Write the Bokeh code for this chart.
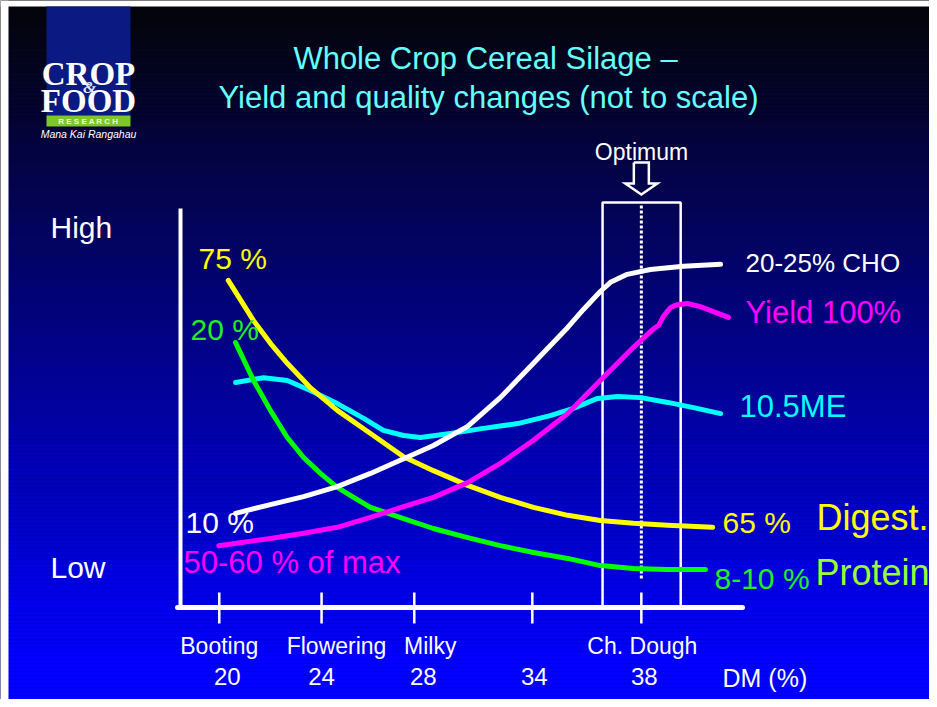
import numpy as np
from bokeh.plotting import figure
from bokeh.models import Range1d, Label, BoxAnnotation
from bokeh.embed import file_html
from bokeh.resources import INLINE
from bokeh.core.properties import value

# ---------------- data (x = position along the not-to-scale growth axis, 0-100;
#                         y = relative level, 0 = Low ... 100 = High) -------------
stage_names = ["Booting", "Flowering", "Milky", "", "Ch. Dough"]
dm_labels = ["20", "24", "28", "34", "38"]
tick_pos = [6.9, 25.1, 41.6, 62.6, 82.0]

level_labels = ["High", "Low"]

opt_left, opt_centre, opt_right, opt_top = 75.1, 82.0, 89.0, 101.5

cho_x = [9.8, 16.0, 21.9, 27.9, 33.8, 39.7, 45.0, 51.1, 56.9, 62.8, 68.9, 71.7,
         74.7, 76.5, 79.5, 83.6, 89.5, 96.1]
cho_y = [23.6, 25.8, 27.8, 30.3, 33.6, 37.3, 40.6, 45.4, 52.6, 61.2, 70.2, 74.7,
         79.2, 81.5, 83.5, 84.7, 85.5, 86.0]

digest_x = [8.5, 13.0, 16.0, 19.0, 23.1, 27.9, 33.8, 39.7, 45.0, 51.1, 56.9,
            62.8, 68.9, 74.7, 80.6, 86.7, 94.7]
digest_y = [82.0, 71.9, 66.2, 61.2, 55.1, 49.4, 43.6, 37.8, 34.3, 30.6, 27.6,
            25.1, 23.1, 21.8, 21.1, 20.6, 20.1]

protein_x = [9.8, 13.0, 16.0, 19.0, 21.9, 24.9, 27.9, 30.8, 33.8, 39.7, 45.0,
             51.1, 56.9, 62.8, 68.9, 74.7, 80.6, 86.7, 93.4]
protein_y = [66.4, 56.9, 49.4, 42.6, 37.6, 33.6, 30.1, 27.6, 25.1, 22.3, 19.8,
             17.5, 15.5, 13.8, 12.3, 10.5, 9.8, 9.5, 9.5]

me_x = [9.8, 14.8, 19.0, 23.1, 27.9, 32.6, 36.1, 39.7, 42.7, 48.0, 53.9, 60.0,
        65.8, 69.9, 74.2, 77.8, 81.9, 86.7, 91.3, 96.1]
me_y = [56.4, 57.6, 56.9, 54.4, 51.1, 47.4, 44.4, 43.1, 42.6, 43.6, 44.9, 46.1,
        48.1, 49.9, 52.4, 52.9, 52.6, 51.4, 50.1, 48.6]

yield_x = [6.8, 16.0, 21.9, 27.9, 33.8, 39.7, 45.0, 51.1, 56.9, 62.8, 68.9,
           74.7, 80.6, 84.2, 85.1, 85.9, 87.2, 88.4, 90.2, 92.5, 97.5]
yield_y = [15.5, 17.3, 18.6, 20.1, 22.6, 25.3, 27.6, 31.3, 36.1, 41.9, 48.6,
           56.9, 65.2, 69.9, 70.7, 72.9, 75.2, 75.9, 76.2, 75.4, 72.7]

# ---------------- layout ----------------
W, H = 929, 699
X0, KX = 180.0, 5.62     # canvas px of x=0, px per unit
Y0, KY = 607.0, 3.99     # canvas px (from top) of y=0, px per unit


def dx(px):
    return (px - X0) / KX


def dy(py):
    return (Y0 - py) / KY


def sx(px):
    return px


def sy(py):
    return H - py


p = figure(width=W, height=H, output_backend="svg", toolbar_location=None,
           x_axis_type=None, y_axis_type=None, min_border=0,
           x_range=Range1d(dx(0), dx(W)), y_range=Range1d(dy(H), dy(0)))
p.outline_line_color = None
p.grid.visible = False
p.background_fill_color = "#000000"
p.border_fill_color = "#000000"

# gradient background (black to blue)
n = 175
edges = np.linspace(0, H, n + 1)
mids = (edges[:-1] + edges[1:]) / 2
t = np.clip((mids - 6) / (668 - 6), 0, 1)
cols = ["#%02x%02x%02x" % (int(round(4 * (1 - v))), int(round(4 * (1 - v))),
                            int(round(10 + 245 * v))) for v in t]
p.quad(left=dx(0), right=dx(W), top=dy(edges[:-1]) + 0.05,
       bottom=dy(edges[1:]), fill_color=cols, line_color=None)


def box(l, r, top, bottom, color):
    p.add_layout(BoxAnnotation(left=sx(l), right=sx(r), top=sy(top), bottom=sy(bottom),
                               left_units="screen", right_units="screen",
                               top_units="screen", bottom_units="screen",
                               fill_color=color, fill_alpha=1, line_color=None))


# white slide border as in the picture
box(0, 8, 0, H, "white")
box(0, W, 0, 6, "white")

# logo
box(46, 130, 6, 115, "#0b1a82")
box(46, 130, 115, 126, "#7cc828")


def lab(text, px, py, size, color, align="left", font="Liberation Sans", style="normal"):
    p.add_layout(Label(x=sx(px), y=sy(py), x_units="screen", y_units="screen",
                       text=text, text_font=font, text_font_size=f"{size}px",
                       text_color=color, text_align=align, text_baseline="middle",
                       text_font_style=style))


lab("CROP", 88, 73, 33, "white", "center", "Liberation Serif", "bold")
lab("FOOD", 88, 100, 33, "white", "center", "Liberation Serif", "bold")
lab("&", 89, 87, 17, "#dfe6ff", "center", "Liberation Serif", "bold italic")
lab("R E S E A R C H", 88, 121, 8, "#eaffd8", "center", "Liberation Sans", "bold")
lab("Mana Kai Rangahau", 88, 133, 10.5, "white", "center", "Liberation Sans", "italic")

# title
lab("Whole Crop Cereal Silage \u2013", 485, 58, 31, "#66ffff", "center")
lab("Yield and quality changes (not to scale)", 488, 97, 31, "#66ffff", "center")

# optimum window
p.line([opt_left, opt_left, opt_right, opt_right], [0, opt_top, opt_top, 0],
       line_color="white", line_width=2.5)
p.line([opt_centre, opt_centre], [dy(578), dy(204)], line_color="white",
       line_width=3, line_dash="3 2")
c = opt_centre
ax = [c - 7.5 / KX, c + 7.5 / KX, c + 7.5 / KX, c + 16 / KX, c, c - 16 / KX,
      c - 7.5 / KX, c - 7.5 / KX]
ay = [dy(162), dy(162), dy(183), dy(183), dy(194), dy(183), dy(183), dy(162)]
p.line(ax, ay, line_color="white", line_width=2.5, line_join="miter")
lab("Optimum", 641, 151, 23, "white", "center")

# axes
p.line([0, 0], [0, 100], line_color="white", line_width=4)
p.line([dx(177), 100], [0, 0], line_color="white", line_width=5, line_cap="round")
p.segment(x0=tick_pos, y0=dy(623), x1=tick_pos, y1=dy(592), line_color="white",
          line_width=2.5)

stage_dx = [0, 15, 16, 0, 1]
num_dx = [8, 0, 9, 2, 3]
p.text(x=tick_pos, y=[dy(645)] * 5, text=stage_names, x_offset=stage_dx,
       text_font=value("Liberation Sans"), text_font_size="23px",
       text_color="white", text_align="center", text_baseline="middle")
p.text(x=tick_pos, y=[dy(676)] * 5, text=dm_labels, x_offset=num_dx,
       text_font=value("Liberation Sans"), text_font_size="24px",
       text_color="white", text_align="center", text_baseline="middle")
lab("DM (%)", 722, 677, 25, "white")

lab(level_labels[0], 50, 227, 30, "white")
lab(level_labels[1], 50, 567, 30, "white")

# curves
kw = dict(line_width=5, line_cap="round", line_join="round")
p.line(me_x, me_y, line_color="#00ffff", **kw)
p.line(protein_x, protein_y, line_color="#00ff00", **kw)
p.line(digest_x, digest_y, line_color="#ffff00", **kw)
p.line(yield_x, yield_y, line_color="#ff00ff", **kw)
p.line(cho_x, cho_y, line_color="#ffffff", **kw)

# curve labels
lab("75 %", 198, 258, 30, "#ffff00")
lab("20 %", 190, 329, 30, "#22ee22")
lab("10 %", 185, 522, 30, "white")
lab("50-60 % of max", 183, 562, 31, "#ff00ff")
lab("20-25% CHO", 745, 262, 26, "white")
lab("Yield 100%", 745, 312, 31, "#ff00ff")
lab("10.5ME", 739, 406, 31, "#00ffff")
lab("65 %", 722, 522, 30, "#ffff00")
lab("Digest.", 816, 517, 36, "#ffff00")
lab("8-10 %", 714, 578, 30, "#22ee22")
lab("Protein", 815, 572, 36, "#99ff33")

open("out.html", "w").write(file_html(p, INLINE))
